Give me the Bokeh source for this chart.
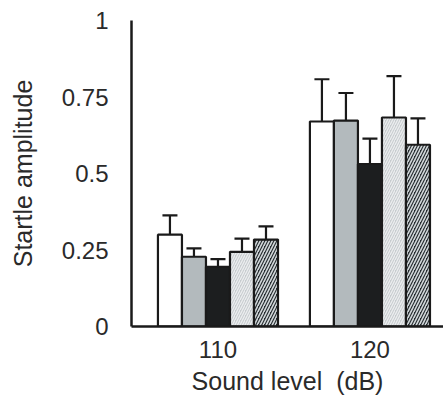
from bokeh.plotting import figure
from bokeh.models import Range1d, FixedTicker, ColumnDataSource, Whisker, TeeHead
from bokeh.embed import file_html
from bokeh.resources import INLINE

levels = ["110", "120"]
series = ["s1", "s2", "s3", "s4", "s5"]
means = {
    "s1": [0.300, 0.670],
    "s2": [0.228, 0.673],
    "s3": [0.195, 0.531],
    "s4": [0.244, 0.683],
    "s5": [0.284, 0.594],
}
errs = {
    "s1": [0.063, 0.138],
    "s2": [0.027, 0.090],
    "s3": [0.025, 0.083],
    "s4": [0.043, 0.135],
    "s5": [0.043, 0.086],
}
y_ticks = [0, 0.25, 0.5, 0.75, 1]
y_tick_labels = ["0", "0.25", "0.5", "0.75", "1"]

styles = {
    "s1": dict(fill_color="#ffffff"),
    "s2": dict(fill_color="#b3babd"),
    "s3": dict(fill_color="#1c1e1f"),
    "s4": dict(fill_color="#c6cbce", hatch_pattern="/", hatch_color="#eceeef", hatch_scale=5, hatch_weight=1.3),
    "s5": dict(fill_color="#272d31", hatch_pattern="/", hatch_color="#d3d9db", hatch_scale=6, hatch_weight=1.6),
}

FONT = "Liberation Sans"
TXT = "#2a2a2a"
LINE = "#1a1a1a"

p = figure(width=443, height=408, output_backend="svg", toolbar_location=None,
           x_range=Range1d(-0.569, 1.484), y_range=Range1d(0, 1.0),
           min_border_left=131, min_border_right=0, min_border_top=20, min_border_bottom=82)
p.outline_line_color = None
p.grid.grid_line_color = None
p.background_fill_color = "white"
p.border_fill_color = "white"

bw = 0.158
for i, s in enumerate(series):
    xs = [g + (i - 2) * bw for g in range(len(levels))]
    tops = [m for m in means[s]]
    uppers = [m + e for m, e in zip(means[s], errs[s])]
    src = ColumnDataSource(dict(x=xs, top=tops, upper=uppers))
    w = Whisker(base="x", lower="top", upper="upper", source=src, dimension="height",
                line_color=LINE, line_width=2.2,
                upper_head=TeeHead(size=15, line_color=LINE, line_width=2.2), lower_head=None)
    p.add_layout(w)
    p.vbar(x="x", top="top", bottom=0, width=bw, source=src,
           line_color=LINE, line_width=2.2, **styles[s])

p.xaxis.ticker = FixedTicker(ticks=[0, 1])
p.xaxis.major_label_overrides = {0: levels[0], 1: levels[1]}
p.xaxis.minor_tick_line_color = None
p.xaxis.major_tick_out = 0
p.xaxis.major_label_standoff = 14
p.xaxis.axis_label = "Sound level\u00a0\u00a0(dB)"
p.xaxis.axis_label_standoff = 6

p.yaxis.ticker = FixedTicker(ticks=y_ticks)
p.yaxis.major_label_overrides = {t: l for t, l in zip(y_ticks, y_tick_labels)}
p.yaxis.minor_tick_line_color = None
p.yaxis.major_tick_out = 8
p.yaxis.major_tick_in = 0
p.yaxis.major_label_standoff = 15
p.yaxis.axis_label = "Startle amplitude"
p.yaxis.axis_label_standoff = 22

for ax in (p.xaxis, p.yaxis):
    ax.axis_line_color = LINE
    ax.axis_line_width = 2.5
    ax.major_tick_line_color = LINE if ax is p.yaxis else None
    ax.major_tick_line_width = 2.5
    ax.major_label_text_font = FONT
    ax.major_label_text_font_size = "24px"
    ax.major_label_text_color = TXT
    ax.axis_label_text_font = FONT
    ax.axis_label_text_font_size = "25px"
    ax.axis_label_text_font_style = "normal"
    ax.axis_label_text_color = TXT

open("out.html", "w").write(file_html(p, INLINE))
